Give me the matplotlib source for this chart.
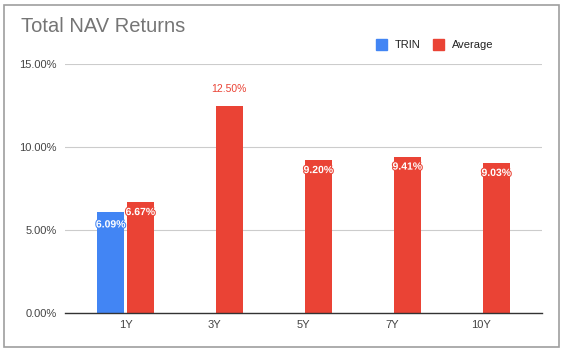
import numpy as np
import matplotlib.pyplot as plt
import matplotlib.patheffects as pe
from matplotlib.patches import Rectangle

plt.rcParams['font.family'] = ['Liberation Sans', 'DejaVu Sans']

periods = ['1Y', '3Y', '5Y', '7Y', '10Y']
trin = [6.09, None, None, None, None]
average = [6.67, 12.50, 9.20, 9.41, 9.03]
yticks = [0, 5, 10, 15]

blue = '#4285F4'
red = '#EA4335'

fig = plt.figure(figsize=(5.63, 3.52), dpi=100)
ax = fig.add_axes([0.1155, 0.1108, 0.847, 0.707])

# outer frame
fig.patches.append(Rectangle((4 / 563, 5 / 352), 555 / 563, 342 / 352,
                             transform=fig.transFigure, fill=False,
                             edgecolor='#9e9e9e', linewidth=1.2))

x = np.arange(len(periods))
w = 0.30
off = 0.167

for i, v in enumerate(trin):
    if v is None:
        continue
    ax.bar(x[i] - off, v, w, color=blue, zorder=3)
    ax.annotate('%.2f%%' % v, (x[i] - off, v), xytext=(0, -9),
                textcoords='offset points', ha='center', va='center',
                fontsize=7.5, fontweight='bold', color='white', zorder=5,
                path_effects=[pe.withStroke(linewidth=1.5, foreground=blue)])

for i, v in enumerate(average):
    ax.bar(x[i] + off, v, w, color=red, zorder=3)
    if v > 12:
        ax.annotate('%.2f%%' % v, (x[i] + off, v), xytext=(0, 12),
                    textcoords='offset points', ha='center', va='center',
                    fontsize=7.5, color=red, zorder=5)
    else:
        ax.annotate('%.2f%%' % v, (x[i] + off, v), xytext=(0, -7),
                    textcoords='offset points', ha='center', va='center',
                    fontsize=7.5, fontweight='bold', color='white', zorder=5,
                    path_effects=[pe.withStroke(linewidth=1.5, foreground=red)])

ax.set_xlim(-0.68, 4.68)
ax.set_ylim(0, 15)
ax.set_yticks(yticks)
ax.set_yticklabels(['%.2f%%' % t for t in yticks])
ax.set_xticks(x)
ax.set_xticklabels(periods)
ax.tick_params(axis='both', length=0, labelsize=8, labelcolor='#444444')
ax.tick_params(axis='y', pad=6)
ax.tick_params(axis='x', pad=5)
ax.grid(axis='y', color='#cccccc', linewidth=0.8, zorder=0)
for s in ['top', 'right', 'left']:
    ax.spines[s].set_visible(False)
ax.spines['bottom'].set_color('#333333')
ax.spines['bottom'].set_linewidth(1.0)
ax.spines['bottom'].set_zorder(4)

fig.text(21 / 563, 1 - 26 / 352, 'Total NAV Returns', fontsize=14.5,
         color='#757575', va='center', ha='left')

# legend
for xs, lab, col in [(376, 'TRIN', blue), (433, 'Average', red)]:
    fig.patches.append(Rectangle((xs / 563, 1 - 50 / 352), 11 / 563, 11 / 352,
                                 transform=fig.transFigure, color=col))
    fig.text((xs + 19) / 563, 1 - 45 / 352, lab, fontsize=8,
             color='#222222', va='center', ha='left')

fig.savefig('out.png', dpi=100)
